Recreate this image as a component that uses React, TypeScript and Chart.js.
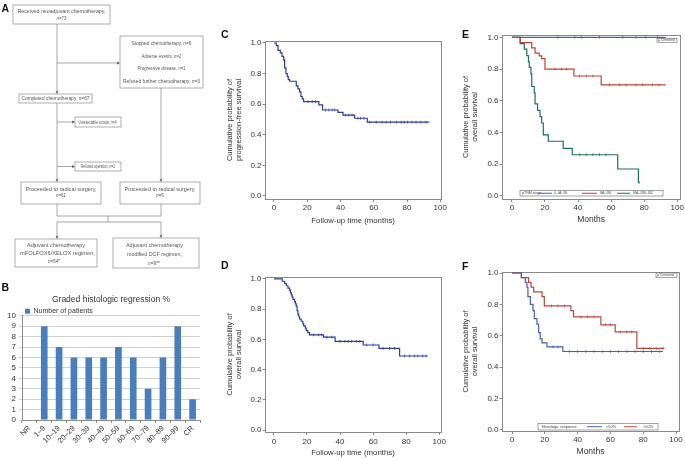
import React, { useEffect, useRef } from "react";
import { Chart, registerables } from "chart.js";
Chart.register(...registerables);

const FONT = '"Liberation Sans", Arial, Helvetica, sans-serif';

// ---------- Panel B data ----------
const regressionCategories = ["NR", "1–9", "10–19", "20–29", "30–39", "40–49", "50–59", "60–69", "70–79", "80–89", "90–99", "CR"];
const regressionPatients = [0, 9, 7, 6, 6, 6, 7, 6, 3, 6, 9, 2];
const regressionYTicks = [0, 1, 2, 3, 4, 5, 6, 7, 8, 9, 10];

// ---------- Shared KM tick labels ----------
const kmXTicks = [0, 20, 40, 60, 80, 100];
const kmYTicks = [0, 0.2, 0.4, 0.6, 0.8, 1.0];

// ---------- Panel C: progression-free survival ----------
const pfsTimes = [0, 1.4, 2.4, 3.8, 4.8, 5.8, 6.4, 7.2, 8.0, 8.6, 9.4, 13.4, 14.4, 15.4, 16.2, 17.0, 17.8, 27.0, 29.2, 38.5, 41.5, 48.5, 56.1, 93.4];
const pfsSurv = [1, 0.983, 0.952, 0.935, 0.913, 0.89, 0.837, 0.8, 0.78, 0.76, 0.75, 0.72, 0.7, 0.68, 0.65, 0.635, 0.616, 0.595, 0.562, 0.547, 0.529, 0.508, 0.482, 0.482];
const pfsCensor = [20.5, 23, 25, 31, 33, 35, 36.5, 43, 45, 47, 50.5, 52, 54, 57.5, 61.5, 65, 67.4, 70, 73.5, 76.5, 78.4, 80.4, 83, 85.4, 88.4, 91.4];

// ---------- Panel D: overall survival ----------
const osTimes = [0, 5.0, 6.5, 7.5, 8.5, 9.5, 10.0, 10.5, 11.0, 11.5, 12.5, 13.0, 13.5, 14.0, 14.5, 15.0, 15.5, 16.5, 17.5, 18.0, 19.0, 19.5, 20.5, 21.5, 30.0, 37.0, 54.0, 63.5, 76.0, 93.0];
const osSurv = [1, 0.985, 0.97, 0.955, 0.94, 0.925, 0.91, 0.895, 0.88, 0.865, 0.85, 0.835, 0.82, 0.79, 0.765, 0.75, 0.735, 0.72, 0.705, 0.69, 0.675, 0.66, 0.645, 0.63, 0.615, 0.587, 0.563, 0.54, 0.49, 0.49];
const osCensor = [24, 27, 29, 32, 35, 40, 43, 45, 47, 50, 52, 56, 60, 66, 70, 73, 79, 82, 85, 87, 90, 92];

// ---------- Panel E: OS by pTNM stage ----------
const stageLegendTitle = "pTNM stage";
const stageLabels = ["0–IA–IB", "IIA–IIB", "IIIA–IIIB–IIIC"];
const stage1Times = [0, 93];
const stage1Surv = [1, 1];
const stage1Censor = [27.7, 38, 42, 53, 67, 75, 81, 88];
const stage2Times = [0, 5, 12, 14, 16.5, 18, 20, 37.5, 54, 93];
const stage2Surv = [1, 0.966, 0.933, 0.9, 0.883, 0.866, 0.8, 0.756, 0.7, 0.7];
const stage2Censor = [26, 30, 33, 41, 45, 49, 59, 65, 69, 75, 79, 85, 89];
const stage3Times = [0, 5, 7.5, 9, 10, 10.5, 11.5, 12, 13.5, 14, 15.5, 17, 18, 19, 22, 31, 36.5, 64, 76.5, 77];
const stage3Surv = [1, 0.96, 0.925, 0.885, 0.845, 0.81, 0.77, 0.69, 0.65, 0.58, 0.54, 0.5, 0.46, 0.385, 0.345, 0.3, 0.26, 0.17, 0.085, 0.085];
const stage3Censor = [41, 45, 49, 53, 57, 77];

// ---------- Panel F: OS by histologic response ----------
const responseLegendTitle = "Histologic response";
const responseLabels = ["<50%", ">50%"];
const lowTimes = [0, 5.7, 8.1, 9.1, 9.7, 11.2, 12.8, 13.6, 15.2, 16.2, 17.2, 18.3, 21.3, 31, 92];
const lowSurv = [1, 0.97, 0.94, 0.91, 0.85, 0.8, 0.76, 0.71, 0.675, 0.62, 0.58, 0.555, 0.53, 0.5, 0.5];
const lowCensor = [25, 28, 35, 40, 45, 50, 55, 60, 65, 70, 75, 80, 85, 90];
const highTimes = [0, 5.7, 10.1, 11.6, 13.2, 18.3, 19.7, 35.9, 37.5, 54.2, 62.9, 76.1, 92.9];
const highSurv = [1, 0.97, 0.94, 0.91, 0.88, 0.85, 0.79, 0.76, 0.72, 0.67, 0.625, 0.52, 0.52];
const highCensor = [24, 28, 32, 42, 46, 50, 57, 60, 66, 70, 73, 80, 84, 88, 92];

const censoredLabel = "Censored";

function survAt(times: number[], surv: number[], t: number) {
  let s = surv[0];
  for (let i = 0; i < times.length; i++) if (times[i] <= t) s = surv[i];
  return s;
}

const framePlugin = {
  id: "frame",
  beforeDatasetsDraw(chart: any) {
    const { ctx, chartArea: a } = chart;
    ctx.save();
    ctx.strokeStyle = "#8a8a8a";
    ctx.lineWidth = 1;
    ctx.strokeRect(Math.round(a.left) + 0.5, Math.round(a.top) + 0.5, Math.round(a.right - a.left), Math.round(a.bottom - a.top));
    ctx.restore();
  },
};

const kmLegendPlugin = {
  id: "kmLegend",
  afterDatasetsDraw(chart: any, _args: any, opts: any) {
    if (!opts || !opts.box) return;
    const { ctx, chartArea: a } = chart;
    const L = a.left, T = a.top;
    ctx.save();
    ctx.textBaseline = "middle";
    ctx.textAlign = "left";
    const c = opts.censorBox;
    ctx.fillStyle = "#fff";
    ctx.fillRect(L + c[0], T + c[1], c[2] - c[0], c[3] - c[1]);
    ctx.strokeStyle = "#666";
    ctx.lineWidth = 0.6;
    ctx.strokeRect(L + c[0], T + c[1], c[2] - c[0], c[3] - c[1]);
    const cy = T + (c[1] + c[3]) / 2;
    ctx.beginPath();
    ctx.moveTo(L + c[0] + 2, cy - 1.2);
    ctx.lineTo(L + c[0] + 2, cy + 1.2);
    ctx.moveTo(L + c[0] + 1.2, cy);
    ctx.lineTo(L + c[0] + 2.8, cy);
    ctx.stroke();
    ctx.fillStyle = "#444";
    ctx.font = `${opts.censorFont}px ${FONT}`;
    ctx.fillText(opts.censorLabel, L + c[0] + 4, cy);
    const b = opts.box;
    ctx.fillStyle = "#fff";
    ctx.fillRect(L + b[0], T + b[1], b[2] - b[0], b[3] - b[1]);
    ctx.strokeStyle = "#666";
    ctx.lineWidth = 0.6;
    ctx.strokeRect(L + b[0], T + b[1], b[2] - b[0], b[3] - b[1]);
    const my = T + (b[1] + b[3]) / 2;
    ctx.font = `${opts.font}px ${FONT}`;
    ctx.fillStyle = "#444";
    ctx.fillText(opts.title, L + b[0] + opts.titleX, my);
    opts.items.forEach((it: any) => {
      ctx.strokeStyle = it.color;
      ctx.lineWidth = 1;
      ctx.beginPath();
      ctx.moveTo(L + b[0] + it.x0, my);
      ctx.lineTo(L + b[0] + it.x1, my);
      ctx.stroke();
      ctx.fillStyle = "#444";
      ctx.fillText(it.label, L + b[0] + it.tx, my);
    });
    ctx.restore();
  },
};

type Curve = { times: number[]; surv: number[]; censor: number[]; color: string };

function kmChart(canvas: HTMLCanvasElement, s: any) {
  const datasets: any[] = [];
  (s.curves as Curve[]).forEach((c) => {
    datasets.push({
      type: "line",
      data: c.times.map((t, i) => ({ x: t, y: c.surv[i] })),
      borderColor: c.color,
      borderWidth: 1.2,
      pointRadius: 0,
      stepped: true,
      fill: false,
    });
    datasets.push({
      type: "line",
      showLine: false,
      data: c.censor.map((t) => ({ x: t, y: survAt(c.times, c.surv, t) })),
      pointStyle: "line",
      pointRotation: 90,
      pointRadius: 1.5,
      pointBorderWidth: 0.7,
      pointBorderColor: c.color,
      pointBackgroundColor: c.color,
    });
  });
  const tickFont = { family: FONT, size: 8 };
  return new Chart(canvas, {
    type: "line",
    data: { datasets },
    options: {
      animation: false,
      responsive: false,
      events: [],
      layout: { padding: s.pad },
      plugins: { legend: { display: false }, tooltip: { enabled: false }, kmLegend: s.legend || {} } as any,
      scales: {
        x: {
          type: "linear",
          min: s.xMin,
          max: s.xMax,
          afterBuildTicks: (sc: any) => { sc.ticks = kmXTicks.map((v) => ({ value: v })); },
          afterFit: (sc: any) => { sc.height = s.xHeight; },
          grid: { drawOnChartArea: false, tickLength: 3, color: "#8a8a8a" },
          border: { display: false },
          ticks: { font: tickFont, color: "#333", padding: s.xTickPad, maxRotation: 0, autoSkip: false, callback: (v: any) => String(v) },
          title: { display: true, text: s.xTitle, font: { family: FONT, size: s.xTitleSize, lineHeight: 1.15 }, color: "#333", padding: { top: 0, bottom: s.xTitlePad } },
        },
        y: {
          type: "linear",
          min: s.yMin,
          max: s.yMax,
          afterBuildTicks: (sc: any) => { sc.ticks = kmYTicks.map((v) => ({ value: v })); },
          afterFit: (sc: any) => { sc.width = s.yWidth; },
          grid: { drawOnChartArea: false, tickLength: 2.5, color: "#8a8a8a" },
          border: { display: false },
          ticks: { font: tickFont, color: "#333", padding: 1, autoSkip: false, callback: (v: any) => Number(v).toFixed(1) },
          title: { display: true, text: s.yTitle, font: { family: FONT, size: 7.5, lineHeight: 1.15 }, color: "#333", padding: { top: s.yTitlePad, bottom: 0 } },
        },
      },
    } as any,
    plugins: [framePlugin, kmLegendPlugin],
  });
}

function barChart(canvas: HTMLCanvasElement) {
  return new Chart(canvas, {
    type: "bar",
    data: {
      labels: regressionCategories,
      datasets: [{ label: "Number of patients", data: regressionPatients, backgroundColor: "#4a7ebb", barPercentage: 0.9, categoryPercentage: 0.5 }],
    },
    options: {
      animation: false,
      responsive: false,
      events: [],
      layout: { padding: { left: 0, right: 5, top: 0, bottom: 0 } },
      plugins: {
        tooltip: { enabled: false },
        title: { display: true, text: "Graded histologic regression %", font: { family: FONT, size: 8.5, weight: "normal", lineHeight: 1.15 }, color: "#333", padding: { top: 4, bottom: 0 }, fullSize: false },
        legend: { display: true, position: "top", align: "start", fullSize: false, maxHeight: 11, labels: { boxWidth: 5, boxHeight: 5, padding: 3, font: { family: FONT, size: 7 }, color: "#333" } },
      },
      scales: {
        x: {
          afterFit: (sc: any) => { sc.height = 39; },
          grid: { drawOnChartArea: false, offset: true, tickLength: 3, color: "#8a8a8a" },
          border: { color: "#8a8a8a" },
          ticks: { font: { family: FONT, size: 7.5 }, color: "#333", minRotation: 45, maxRotation: 45, autoSkip: false, padding: 1 },
        },
        y: {
          min: 0,
          max: 10,
          afterBuildTicks: (sc: any) => { sc.ticks = regressionYTicks.map((v) => ({ value: v })); },
          afterFit: (sc: any) => { sc.width = 22; },
          grid: { color: "#c4c4c4", lineWidth: 0.8, tickLength: 3 },
          border: { color: "#8a8a8a" },
          ticks: { font: { family: FONT, size: 8 }, color: "#333", padding: 3, autoSkip: false },
        },
      },
    } as any,
  });
}

const specC = {
  curves: [{ times: pfsTimes, surv: pfsSurv, censor: pfsCensor, color: "#2e3d94" }],
  xMin: -5.4, xMax: 100.6, yMin: -0.02, yMax: 1.013,
  pad: { left: 0, top: 13, right: 6, bottom: 0 }, yWidth: 43, xHeight: 31,
  yTitle: ["Cumulative probability of", "progression-free survival"], yTitlePad: 3.7,
  xTitle: "Follow-up time (months)", xTitleSize: 7.8, xTitlePad: 4.5, xTickPad: 1,
};
const specD = {
  curves: [{ times: osTimes, surv: osSurv, censor: osCensor, color: "#2e3d94" }],
  xMin: -5.4, xMax: 101, yMin: -0.013, yMax: 1.013,
  pad: { left: 0, top: 15, right: 5, bottom: 0 }, yWidth: 43, xHeight: 27,
  yTitle: ["Cumulative probability of", "overall survival"], yTitlePad: 3.7,
  xTitle: "Follow-up time (months)", xTitleSize: 7.8, xTitlePad: 1.5, xTickPad: 2,
};
const specE = {
  curves: [
    { times: stage1Times, surv: stage1Surv, censor: stage1Censor, color: "#4b62ad" },
    { times: stage2Times, surv: stage2Surv, censor: stage2Censor, color: "#b8443a" },
    { times: stage3Times, surv: stage3Surv, censor: stage3Censor, color: "#1f6f63" },
  ],
  xMin: -6, xMax: 101.8, yMin: -0.019, yMax: 1.0145,
  pad: { left: 0, top: 15, right: 4, bottom: 0 }, yWidth: 42, xHeight: 31,
  yTitle: ["Cumulative probability of", "overall survival"], yTitlePad: 1.7,
  xTitle: "Months", xTitleSize: 8.5, xTitlePad: 5.1, xTickPad: 1,
  legend: {
    box: [18, 155.5, 161, 161], title: stageLegendTitle, titleX: 2, font: 3.6,
    items: [
      { label: stageLabels[0], color: "#4b62ad", x0: 18, x1: 32, tx: 34 },
      { label: stageLabels[1], color: "#b8443a", x0: 62, x1: 77, tx: 80 },
      { label: stageLabels[2], color: "#1f6f63", x0: 97, x1: 110, tx: 113 },
    ],
    censorBox: [155, 3.3, 175, 7.7], censorLabel: censoredLabel, censorFont: 3.2,
  },
};
const specF = {
  curves: [
    { times: lowTimes, surv: lowSurv, censor: lowCensor, color: "#4a5fae" },
    { times: highTimes, surv: highSurv, censor: highCensor, color: "#b54a3f" },
  ],
  xMin: -6.1, xMax: 101.8, yMin: -0.0064, yMax: 1.0064,
  pad: { left: 0, top: 14, right: 6, bottom: 0 }, yWidth: 42, xHeight: 28,
  yTitle: ["Cumulative probability of", "overall survival"], yTitlePad: 1.7,
  xTitle: "Months", xTitleSize: 8.5, xTitlePad: 2.1, xTickPad: 1,
  legend: {
    box: [36, 151.5, 156, 158], title: responseLegendTitle, titleX: 3.7, font: 4,
    items: [
      { label: responseLabels[0], color: "#4a5fae", x0: 49, x1: 64, tx: 68 },
      { label: responseLabels[1], color: "#b54a3f", x0: 86, x1: 99, tx: 105 },
    ],
    censorBox: [154, 1, 175, 5.7], censorLabel: censoredLabel, censorFont: 3.2,
  },
};

const G = "#8f8f8f";
const TC = "#555";

function Box({ x, y, w, h }: { x: number; y: number; w: number; h: number }) {
  return <rect x={x} y={y} width={w} height={h} fill="#fff" stroke="#9a9a9a" strokeWidth={0.8} />;
}
function Txt({ x, y, w, fs = 5, children }: { x: number; y: number; w: number; fs?: number; children: any }) {
  return (
    <text x={x} y={y + fs * 0.36} textAnchor="middle" fontSize={fs} fill={TC} fontFamily={FONT} textLength={w} lengthAdjust="spacingAndGlyphs">
      {children}
    </text>
  );
}
const N = () => <tspan fontStyle="italic">n</tspan>;
function ArrowDown({ x, y1, y2 }: { x: number; y1: number; y2: number }) {
  return (
    <g>
      <line x1={x} y1={y1} x2={x} y2={y2 - 2} stroke={G} strokeWidth={0.8} />
      <path d={`M${x - 1.4},${y2 - 2.8} L${x + 1.4},${y2 - 2.8} L${x},${y2} Z`} fill="#555" />
    </g>
  );
}
function ArrowRight({ x1, x2, y }: { x1: number; x2: number; y: number }) {
  return (
    <g>
      <line x1={x1} y1={y} x2={x2 - 2} y2={y} stroke={G} strokeWidth={0.8} />
      <path d={`M${x2 - 2.8},${y - 1.4} L${x2 - 2.8},${y + 1.4} L${x2},${y} Z`} fill="#555" />
    </g>
  );
}
function Ln({ x1, y1, x2, y2 }: { x1: number; y1: number; x2: number; y2: number }) {
  return <line x1={x1} y1={y1} x2={x2} y2={y2} stroke={G} strokeWidth={0.8} />;
}

function Overlay() {
  const L = (x: number, y: number, s: string) => (
    <text x={x} y={y} fontSize={10.5} fontWeight="bold" fontFamily={FONT} fill="#111">{s}</text>
  );
  return (
    <svg width={685} height={459} style={{ position: "absolute", left: 0, top: 0, pointerEvents: "none" }}>
      <ArrowDown x={57} y1={24} y2={94} />
      <ArrowRight x1={57} x2={120} y={63} />
      <ArrowDown x={57} y1={103} y2={182} />
      <ArrowRight x1={57} x2={75} y={122} />
      <ArrowRight x1={57} x2={75} y={166.5} />
      <ArrowDown x={161} y1={88} y2={182} />
      <Ln x1={57} y1={204} x2={57} y2={216} />
      <Ln x1={161} y1={204} x2={161} y2={216} />
      <Ln x1={57} y1={216} x2={161} y2={216} />
      <Ln x1={108} y1={216} x2={108} y2={222} />
      <Ln x1={57} y1={222} x2={161} y2={222} />
      <ArrowDown x={57} y1={222} y2={239} />
      <ArrowDown x={161} y1={222} y2={238} />
      <Box x={13} y={5} w={97} h={19} />
      <Txt x={61.5} y={11} w={88}>Received neoadjuvant chemotherapy,</Txt>
      <Txt x={61.5} y={18} w={10}><N />=73</Txt>
      <Box x={120} y={36} w={83} h={52} />
      <Txt x={161.5} y={43} w={60}>Stopped chemotherapy, <N />=6</Txt>
      <Txt x={161.5} y={55.7} w={40}>Adverse events, <N />=2</Txt>
      <Txt x={161.5} y={68.3} w={48}>Progressive disease, <N />=1</Txt>
      <Txt x={161.5} y={80.7} w={77}>Refused further chemotherapy, <N />=3</Txt>
      <Box x={19} y={94} w={73} h={9} />
      <Txt x={55.5} y={98.5} w={68}>Completed chemotherapy, <N />=67</Txt>
      <Box x={75} y={117} w={46} h={10} />
      <Txt x={97.5} y={122} w={38} fs={4.8}>Unresectable tumour, <N />=4</Txt>
      <Box x={75} y={162} w={46} h={9} />
      <Txt x={98} y={166.5} w={34} fs={4.8}>Refused operation, <N />=2</Txt>
      <Box x={21} y={182} w={80} h={22} />
      <Txt x={61} y={189} w={71}>Proceeded to radical surgery,</Txt>
      <Txt x={61} y={195.5} w={10}><N />=61</Txt>
      <Box x={120} y={182} w={80} h={22} />
      <Txt x={160} y={189} w={71}>Proceeded to radical surgery,</Txt>
      <Txt x={160} y={195.5} w={8}><N />=6</Txt>
      <Box x={15} y={239} w={82} h={28} />
      <Txt x={56} y={245} w={58}>Adjuvant chemotherapy</Txt>
      <Txt x={57.5} y={253} w={75}>mFOLFOX6/XELOX regimen,</Txt>
      <Txt x={54} y={261} w={12}><N />=54*</Txt>
      <Box x={113} y={238} w={86} h={30} />
      <Txt x={154.5} y={245} w={57}>Adjuvant chemotherapy</Txt>
      <Txt x={154.5} y={254.5} w={55}>modified DCF regimen,</Txt>
      <Txt x={154} y={263} w={12}><N />=9**</Txt>
      {L(1.5, 12, "A")}
      {L(1.5, 291, "B")}
      {L(221, 38, "C")}
      {L(221, 269, "D")}
      {L(462, 38, "E")}
      {L(462, 270, "F")}
    </svg>
  );
}

export default function App() {
  const rB = useRef<HTMLCanvasElement>(null);
  const rC = useRef<HTMLCanvasElement>(null);
  const rD = useRef<HTMLCanvasElement>(null);
  const rE = useRef<HTMLCanvasElement>(null);
  const rF = useRef<HTMLCanvasElement>(null);
  useEffect(() => {
    const charts = [
      barChart(rB.current!),
      kmChart(rC.current!, specC),
      kmChart(rD.current!, specD),
      kmChart(rE.current!, specE),
      kmChart(rF.current!, specF),
    ];
    return () => charts.forEach((c) => c.destroy());
  }, []);
  const cs = (left: number, top: number, w: number, h: number): any => ({ position: "absolute", left, top, width: w, height: h });
  return (
    <div style={{ position: "fixed", left: 0, top: 0, width: 685, height: 459, background: "#fff", overflow: "hidden", fontFamily: FONT }}>
      <canvas ref={rB} width={205} height={168} style={cs(0, 291, 205, 168)} />
      <canvas ref={rC} width={226} height={202} style={cs(222, 28, 226, 202)} />
      <canvas ref={rD} width={226} height={197} style={cs(222, 262, 226, 197)} />
      <canvas ref={rE} width={225} height={210} style={cs(460, 20, 225, 210)} />
      <canvas ref={rF} width={225} height={201} style={cs(460, 258, 225, 201)} />
      <Overlay />
    </div>
  );
}
